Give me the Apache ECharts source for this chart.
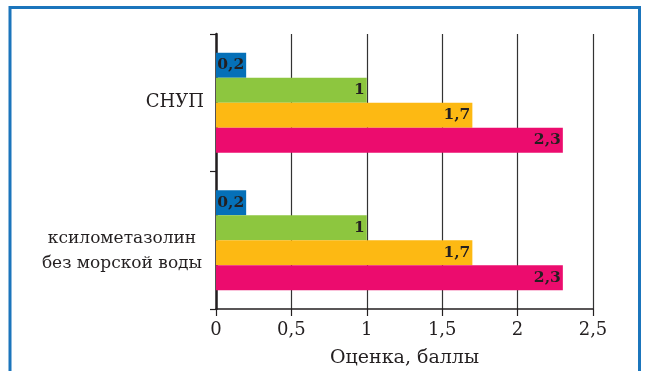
<!DOCTYPE html>
<html>
<head>
<meta charset="utf-8">
<script src="https://cdn.jsdelivr.net/npm/echarts@6/dist/echarts.min.js"></script>
<style>
  html, body { margin: 0; padding: 0; background: #fff; }
  #chart { width: 646px; height: 371px; }
</style>
</head>
<body>
<div id="chart"></div>
<script>
// Categories, listed bottom to top along the vertical axis
const categories = ['ксилометазолин\nбез морской воды', 'СНУП'];
// Scores per group (same order as categories)
const blueValues = [0.2, 0.2];
const greenValues = [1, 1];
const orangeValues = [1.7, 1.7];
const pinkValues = [2.3, 2.3];
// Value axis tick labels
const xTicks = [0, 0.5, 1, 1.5, 2, 2.5];
const axisTitle = 'Оценка, баллы';

const FONT = '"DejaVu Serif", serif';
const INK = '#231f20';

const fmt = v => String(v).replace('.', ',');

function barSeries(name, data, color) {
  return {
    name: name,
    type: 'bar',
    data: data,
    barWidth: 25,
    barGap: '0%',
    itemStyle: { color: color },
    label: {
      show: true,
      position: 'insideRight',
      distance: 2,
      formatter: p => fmt(p.value),
      fontFamily: FONT,
      fontWeight: 'bold',
      fontSize: 15.5,
      color: INK
    }
  };
}

// The two-line category label sits a little below its band centre
const categoryData = categories.map(c => c.indexOf('\n') >= 0
  ? { value: c, textStyle: { padding: [22, 0, 0, 0] } }
  : c);

const chart = echarts.init(document.getElementById('chart'));
chart.setOption({
  animation: false,
  backgroundColor: '#fff',
  grid: { left: 216, right: 53, top: 34, bottom: 62, containLabel: false, outerBoundsMode: 'none' },
  xAxis: {
    type: 'value',
    min: 0,
    max: 2.5,
    interval: 0.5,
    name: axisTitle,
    nameLocation: 'middle',
    nameGap: 40,
    nameTextStyle: { fontFamily: FONT, fontSize: 19, color: INK },
    axisLine: { show: true, lineStyle: { color: INK, width: 1.5 } },
    axisTick: { show: true, length: 7, lineStyle: { color: INK, width: 1.2 } },
    axisLabel: {
      margin: 12,
      fontFamily: FONT,
      fontSize: 18,
      color: INK,
      formatter: v => xTicks.indexOf(v) >= 0 ? fmt(v) : ''
    },
    splitLine: { show: true, lineStyle: { color: '#333', width: 1.2 } }
  },
  yAxis: {
    type: 'category',
    data: categoryData,
    axisLine: { show: true, lineStyle: { color: INK, width: 2.5 } },
    axisTick: { show: true, length: 6, lineStyle: { color: INK, width: 1.2 } },
    axisLabel: {
      margin: 12,
      fontFamily: FONT,
      fontSize: 18,
      color: INK,
      lineHeight: 25,
      formatter: v => v.indexOf('\n') >= 0
        ? v.split('\n').map(s => '{c|' + s + '}').join('\n')
        : v,
      rich: {
        c: { width: 164, align: 'center', fontFamily: FONT, fontSize: 17, color: INK, lineHeight: 25 }
      }
    },
    splitLine: { show: false }
  },
  series: [
    barSeries('blue', blueValues, '#0570b8'),
    barSeries('green', greenValues, '#8dc63f'),
    barSeries('orange', orangeValues, '#fdb913'),
    barSeries('pink', pinkValues, '#ec0c6e')
  ],
  graphic: [
    {
      type: 'rect',
      shape: { x: 10, y: 7.5, width: 629.5, height: 420 },
      style: { fill: 'none', stroke: '#1b75bc', lineWidth: 3 },
      silent: true
    }
  ]
});
</script>
</body>
</html>
